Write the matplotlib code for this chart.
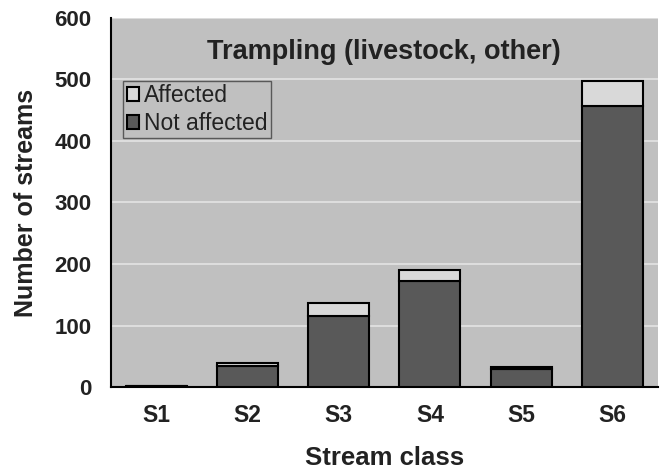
import numpy as np
import matplotlib.pyplot as plt

plt.rcParams['font.family'] = ['Liberation Sans', 'DejaVu Sans']

# stream classes and counts
classes = ['S1', 'S2', 'S3', 'S4', 'S5', 'S6']
not_affected = [2, 34, 115, 172, 30, 457]
affected = [0, 5, 21, 19, 3, 40]

fig = plt.figure(figsize=(6.65, 4.72), dpi=100)
ax = fig.add_axes([0.167, 0.180, 0.822, 0.782])
ax.set_facecolor('#c0c0c0')

x = np.arange(len(classes))
w = 0.67
ax.bar(x, not_affected, w, color='#595959', edgecolor='black', linewidth=1.5,
       label='Not affected', zorder=3)
ax.bar(x, affected, w, bottom=not_affected, color='#d9d9d9', edgecolor='black',
       linewidth=1.5, label='Affected', zorder=3)

ax.set_xlim(-0.5, len(classes) - 0.5)
ax.set_ylim(0, 600)
ax.set_yticks(np.arange(0, 601, 100))
ax.yaxis.grid(True, color='#e4e4e4', linewidth=1.2, zorder=0)
ax.set_xticks(x)
ax.set_xticklabels(classes, fontsize=16.5, fontweight='bold', color='#222222')
for lab in ax.get_yticklabels():
    lab.set_fontsize(16)
    lab.set_fontweight('bold')
    lab.set_color('#222222')
ax.tick_params(axis='y', length=0, pad=14)
ax.tick_params(axis='x', length=0, pad=12)

for side in ['top', 'right']:
    ax.spines[side].set_visible(False)
ax.spines['left'].set_linewidth(1.5)
ax.spines['bottom'].set_linewidth(1.5)

ax.set_xlabel('Stream class', fontsize=18.5, fontweight='bold', labelpad=14,
              color='#222222')
ax.set_ylabel('Number of streams', fontsize=18, fontweight='bold', labelpad=12,
              color='#222222')
ax.text(0.5, 0.908, 'Trampling (livestock, other)', transform=ax.transAxes,
        ha='center', va='center', fontsize=19.5, fontweight='bold',
        color='#222222')

handles, labels = ax.get_legend_handles_labels()
leg = ax.legend(handles[::-1], labels[::-1], loc='upper left',
                bbox_to_anchor=(0.022, 0.83), fontsize=16.5, frameon=True,
                fancybox=False, edgecolor='#404040', facecolor='#c0c0c0',
                handlelength=0.55, handleheight=0.55, handletextpad=0.2,
                borderpad=0.15, labelspacing=0.2, borderaxespad=0)
leg.get_frame().set_linewidth(1.0)
for t in leg.get_texts():
    t.set_color('#222222')

fig.savefig('out.png', dpi=100)
